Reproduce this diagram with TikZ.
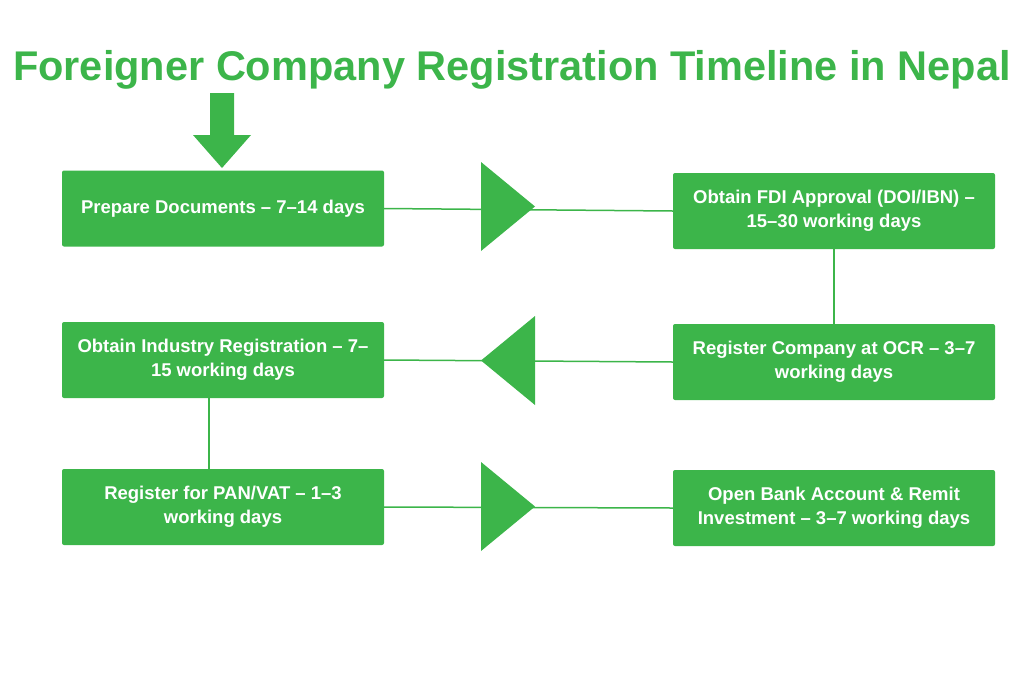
\documentclass[tikz,border=0pt]{standalone}
\usepackage{fontspec}
\setmainfont{Liberation Sans}
\definecolor{gr}{HTML}{3CB54A}
\begin{document}
\begin{tikzpicture}[x=1pt,y=-1pt,
box/.style={fill=gr,rounded corners=2pt,minimum width=322pt,minimum height=76pt,align=center,text=white,font=\bfseries\fontsize{18.5}{24}\selectfont,inner sep=0pt},
ln/.style={draw=gr,line width=1.5pt},
tri/.style={fill=gr}]
\useasboundingbox (0,0) rectangle (1024,683);
\node[text=gr,font=\bfseries\fontsize{41.5}{48}\selectfont] (title) at (512,70) {Foreigner Company Registration Timeline in Nepal};
\node[box] (b1) at (223,208.5) {Prepare Documents – 7–14 days};
\node[box] (b2) at (834,211) {Obtain FDI Approval (DOI/IBN) –\\15–30 working days};
\node[box] (b3) at (834,362) {Register Company at OCR – 3–7\\working days};
\node[box] (b4) at (223,360) {Obtain Industry Registration – 7–\\15 working days};
\node[box] (b5) at (223,507) {Register for PAN/VAT – 1–3\\working days};
\node[box] (b6) at (834,508) {Open Bank Account \& Remit\\Investment – 3–7 working days};
\coordinate (c4) at ([xshift=-14pt]b4.south);
\coordinate (c5) at ([xshift=-14pt]b5.north);
\draw[ln] (b1.east) -- (b2.west);
\draw[ln] (b2.south) -- (b3.north);
\draw[ln] (b3.west) -- (b4.east);
\draw[ln] (c4) -- (c5);
\draw[ln] (b5.east) -- (b6.west);
\fill[tri] (481,162) -- (535,206.5) -- (481,251) -- cycle;
\fill[tri] (535,316) -- (481,360.5) -- (535,405) -- cycle;
\fill[tri] (481,462) -- (535,506.5) -- (481,551) -- cycle;
\fill[gr] (210,93) -- (234,93) -- (234,135) -- (251,135) -- (222,168) -- (193,135) -- (210,135) -- cycle;
\end{tikzpicture}
\end{document}
